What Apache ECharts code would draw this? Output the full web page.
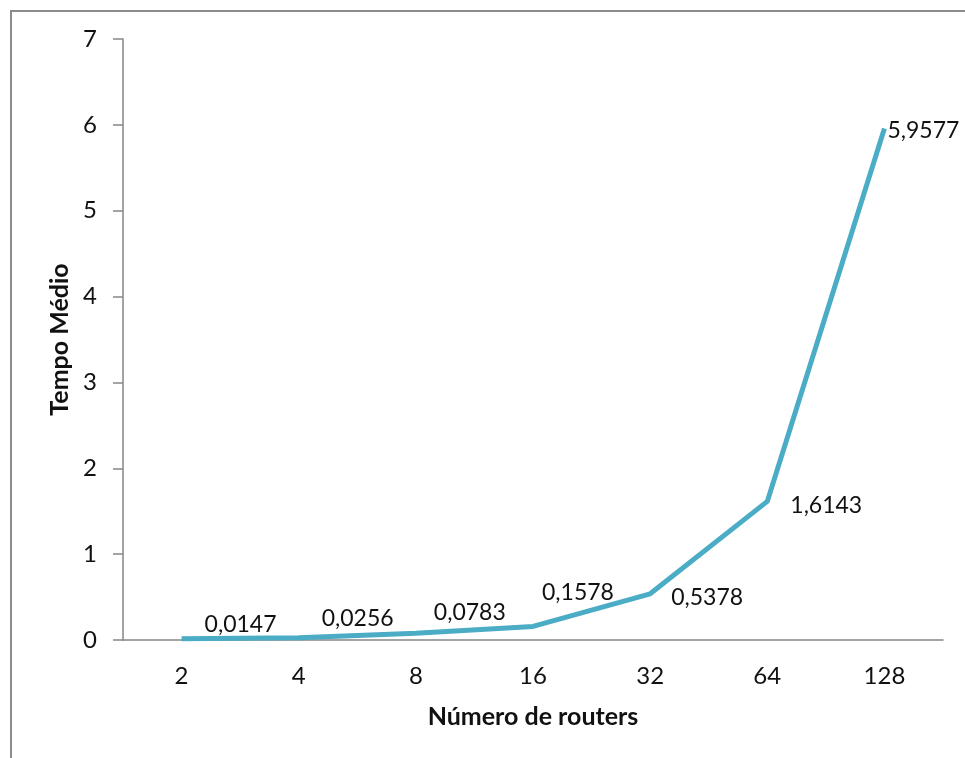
<!DOCTYPE html>
<html>
<head>
<meta charset="utf-8">
<script src="https://cdn.jsdelivr.net/npm/echarts@6/dist/echarts.min.js"></script>
<style>
  html, body { margin: 0; padding: 0; background: #fff; }
  #chart { width: 965px; height: 758px; }
</style>
</head>
<body>
<div id="chart"></div>
<script>
// Number of routers on the x axis, mean time on the y axis
const routers = ['2', '4', '8', '16', '32', '64', '128'];
const tempoMedio = [0.0147, 0.0256, 0.0783, 0.1578, 0.5378, 1.6143, 5.9577];
const yTicks = [0, 1, 2, 3, 4, 5, 6, 7];

// Nudges for each value label so they sit clear of the line
const labelOffsets = [[17, -14], [17, -19], [12, -21], [3, -34], [15, 4], [17, 4], [-3, 2]];

const FONT = 'Lato';
const TEXT = '#111';
const AXIS = '#868686';

const chart = echarts.init(document.getElementById('chart'), null, { renderer: 'canvas' });

chart.setOption({
  backgroundColor: '#fff',
  animation: false,
  textStyle: { fontFamily: FONT },
  graphic: [{
    type: 'rect',
    shape: { x: 11, y: 11, width: 1200, height: 1200 },
    style: { fill: 'none', stroke: '#8c8c8c', lineWidth: 2 },
    silent: true
  }],
  grid: { left: 123, top: 39, right: 22, bottom: 118 },
  xAxis: {
    type: 'category',
    data: routers,
    boundaryGap: true,
    name: 'Número de routers',
    nameLocation: 'middle',
    nameGap: 64,
    nameTextStyle: { fontFamily: FONT, fontWeight: 'bold', fontSize: 25, color: TEXT },
    axisLine: { lineStyle: { color: AXIS, width: 1.5 } },
    axisTick: { show: false },
    axisLabel: { fontFamily: FONT, fontSize: 24, color: TEXT, margin: 24 }
  },
  yAxis: {
    type: 'value',
    min: yTicks[0],
    max: yTicks[yTicks.length - 1],
    interval: 1,
    name: 'Tempo Médio',
    nameLocation: 'middle',
    nameGap: 48,
    nameTextStyle: { fontFamily: FONT, fontWeight: 'bold', fontSize: 25, color: TEXT },
    axisLine: { show: true, lineStyle: { color: AXIS, width: 1.5 } },
    axisTick: { show: true, inside: false, length: 10, lineStyle: { color: AXIS, width: 1.5 } },
    splitLine: { show: false },
    axisLabel: { fontFamily: FONT, fontSize: 24, color: TEXT, margin: 26 }
  },
  series: [{
    type: 'line',
    data: tempoMedio.map((v, i) => ({
      value: v,
      label: { offset: labelOffsets[i] }
    })),
    showSymbol: true,
    symbol: 'circle',
    symbolSize: 2,
    lineStyle: { color: '#4BACC6', width: 5 },
    itemStyle: { color: 'rgba(75,172,198,0)', borderWidth: 0 },
    label: {
      show: true,
      position: 'right',
      distance: 5,
      fontFamily: FONT,
      fontSize: 23,
      color: TEXT,
      formatter: p => String(p.value).replace('.', ',')
    }
  }]
});
</script>
</body>
</html>
